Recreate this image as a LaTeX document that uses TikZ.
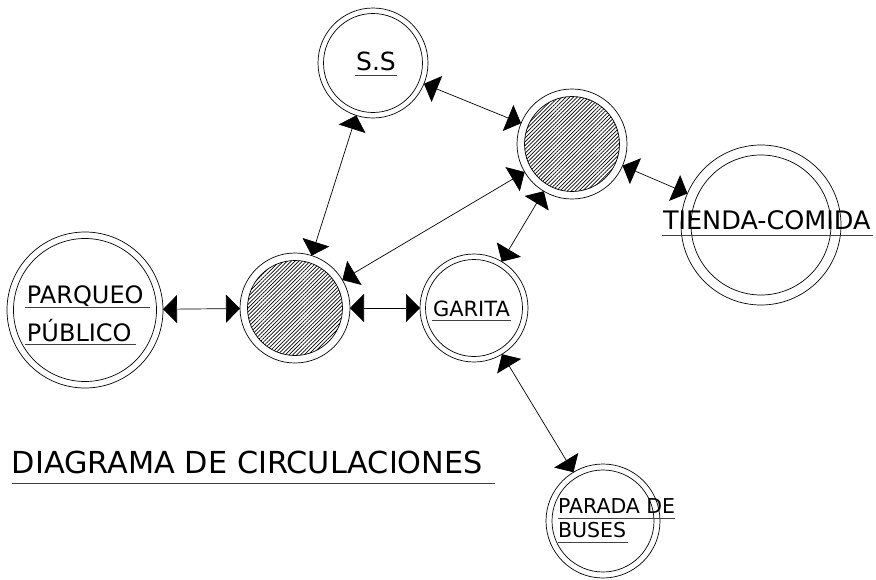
\documentclass[tikz,border=0pt]{standalone}
\usepackage{fontspec}
\setmainfont{DejaVu Sans}
\usetikzlibrary{arrows.meta,patterns.meta}
\begin{document}
\begin{tikzpicture}[x=1pt,y=-1pt,
  ring/.style={circle,draw,line width=0.7pt,inner sep=0pt,outer sep=0pt,minimum size=#1},
  innerring/.style={line width=0.7pt},
  hatch/.style={line width=0.7pt,pattern={Lines[angle=45,distance=2.7pt,line width=0.7pt]}},
  biarrow/.style={line width=0.7pt,{Triangle[length=14pt,width=28pt]}-{Triangle[length=14pt,width=28pt]}},
  lbl/.style={inner sep=0pt,outer sep=0pt,anchor=base west},
  uline/.style={line width=0.8pt,black!75}]
\useasboundingbox (0,0) rectangle (876,579);
% circles
\node[ring=110pt] (ss) at (373,63) {};
\draw[innerring] (ss.center) circle (49.5);
\node[ring=110pt] (hr) at (572,144) {};
\draw[hatch] (hr.center) circle (47.5);
\node[ring=110pt] (hl) at (295,308) {};
\draw[hatch] (hl.center) circle (47.5);
\node[ring=108pt] (gar) at (474,308) {};
\draw[innerring] (gar.center) circle (48.5);
\node[ring=156pt] (pq) at (85,310) {};
\draw[innerring] (pq.center) circle (71.5);
\node[ring=160pt] (td) at (761,225) {};
\draw[innerring] (td.center) circle (70);
\node[ring=114pt] (pb) at (603,521) {};
\draw[innerring] (pb.center) circle (51);
% labels
\node[inner sep=0pt,anchor=base] (tss) at (376,70) {\fontsize{25}{30}\selectfont S.S};
\draw[uline] ([shift={(-1pt,-5pt)}]tss.base west) -- ([shift={(1pt,-5pt)}]tss.base east);
\node[lbl] (tgar) at (433,316) {\fontsize{21}{25}\selectfont GARITA};
\draw[uline] ([shift={(-1pt,-4pt)}]tgar.base west) -- ([shift={(1pt,-4pt)}]tgar.base east);
\node[lbl] (ttd) at (663,229) {\fontsize{25.5}{30}\selectfont TIENDA-COMIDA};
\draw[uline] ([shift={(-1pt,-6pt)}]ttd.base west) -- ([shift={(2pt,-6pt)}]ttd.base east);
\node[lbl] (tpq1) at (27,303) {\fontsize{24}{29}\selectfont PARQUEO};
\draw[uline] ([shift={(-2pt,-4pt)}]tpq1.base west) -- ([shift={(6pt,-4pt)}]tpq1.base east);
\node[lbl] (tpq2) at (27,341) {\fontsize{24}{29}\selectfont PÚBLICO};
\draw[uline] ([shift={(-2pt,-3pt)}]tpq2.base west) -- ([shift={(4pt,-3pt)}]tpq2.base east);
\node[lbl] (tpb1) at (558,513) {\fontsize{20.5}{24}\selectfont PARADA DE};
\draw[uline] ([shift={(0pt,-5pt)}]tpb1.base west) -- ([shift={(0pt,-5pt)}]tpb1.base east);
\node[lbl] (tpb2) at (558,537) {\fontsize{20.5}{24}\selectfont BUSES};
\draw[uline] ([shift={(0pt,-5pt)}]tpb2.base west) -- ([shift={(2pt,-5pt)}]tpb2.base east);
\node[lbl] (title) at (12,473) {\fontsize{30.3}{36}\selectfont DIAGRAMA DE CIRCULACIONES};
\draw[uline] ([shift={(0pt,-10pt)}]title.base west) -- ([shift={(12pt,-10pt)}]title.base east);
% connectors
\draw[biarrow] (pq) -- (hl);
\draw[biarrow] (hl) -- (gar);
\draw[biarrow] (hl) -- (ss);
\draw[biarrow] (ss) -- (hr);
\draw[biarrow] (hr) -- (td);
\draw[biarrow] (hr) -- (hl);
\draw[biarrow] (hr) -- (gar);
\draw[biarrow] (gar) -- (pb);
\end{tikzpicture}
\end{document}
